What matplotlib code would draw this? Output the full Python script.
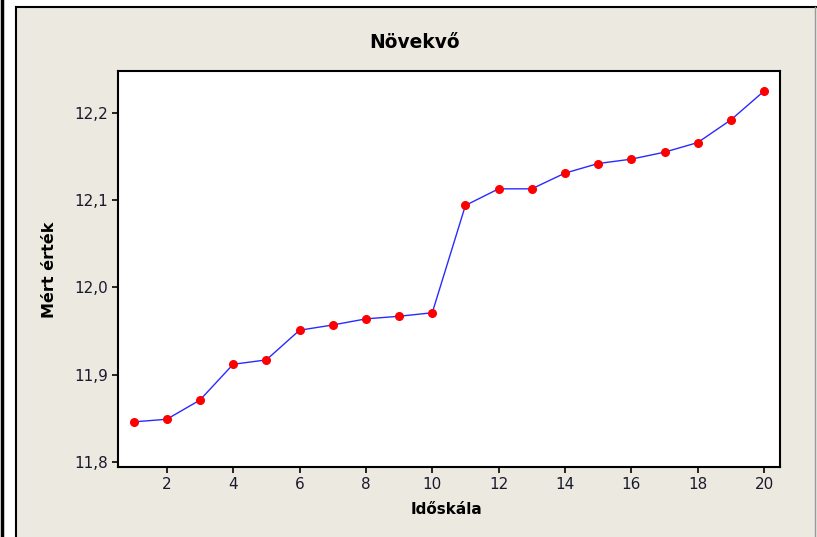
import matplotlib.pyplot as plt
from matplotlib.patches import Rectangle
from matplotlib.lines import Line2D

# data
x = list(range(1, 21))
y = [11.846, 11.849, 11.871, 11.912, 11.917, 11.951, 11.957, 11.964, 11.967, 11.971,
     12.094, 12.113, 12.113, 12.131, 12.142, 12.147, 12.155, 12.166, 12.192, 12.225]
xticks = [2, 4, 6, 8, 10, 12, 14, 16, 18, 20]
yticks = [11.8, 11.9, 12.0, 12.1, 12.2]
ytick_labels = ["11,8", "11,9", "12,0", "12,1", "12,2"]

W, H = 817, 537
fig = plt.figure(figsize=(W / 100, H / 100), dpi=100, facecolor="#ECE9E0")

# white strips + frame lines like the screenshot (behind the axes)
fig.patches.append(Rectangle((0, 0), 16 / W, 1, transform=fig.transFigure,
                             facecolor="white", edgecolor="none", zorder=-5))
fig.patches.append(Rectangle((0, 1 - 7 / H), 1, 7 / H, transform=fig.transFigure,
                             facecolor="white", edgecolor="none", zorder=-5))
fig.lines.append(Line2D([16 / W, 16 / W], [0, 1 - 7 / H], transform=fig.transFigure, color="black", lw=1.5, zorder=-4))
fig.lines.append(Line2D([16 / W, 1], [1 - 7 / H, 1 - 7 / H], transform=fig.transFigure, color="black", lw=1.5, zorder=-4))
fig.lines.append(Line2D([1.5 / W, 1.5 / W], [0, 1], transform=fig.transFigure, color="black", lw=2.5, zorder=-4))
fig.lines.append(Line2D([815 / W, 815 / W], [0, 1 - 7 / H], transform=fig.transFigure, color="#9a9a9a", lw=1, zorder=-4))

ax = fig.add_axes([118 / W, (H - 467) / H, (780 - 118) / W, (467 - 71) / H])
ax.set_zorder(5)
ax.set_facecolor("white")

ax.plot(x, y, color="#2a2aff", lw=1, zorder=2)
ax.plot(x, y, "o", color="red", ms=5.5, mec="red", zorder=3)

ax.set_xlim(0.53, 20.48)
ax.set_ylim(11.7943, 12.248)
ax.set_xticks(xticks)
ax.set_yticks(yticks)
ax.set_yticklabels(ytick_labels)

for s in ax.spines.values():
    s.set_linewidth(1.5)
    s.set_color("black")
ax.tick_params(direction="out", length=4, width=1.2, labelsize=11, colors="black", pad=3)
for lab in ax.get_xticklabels() + ax.get_yticklabels():
    lab.set_color("#1a1a2e")

# title is centred on the panel, not on the plot area
fig.text(415 / W, 1 - 42 / H, "Növekvő", fontsize=13.4, fontweight="bold", ha="center", va="center")
ax.set_xlabel("Időskála", fontsize=11, fontweight="bold")
ax.set_ylabel("Mért érték", fontsize=11.5, fontweight="bold")
ax.xaxis.set_label_coords((413 + 33 - 118) / (780 - 118) + 0.0, -(509 - 467) / (467 - 71))
ax.yaxis.set_label_coords(-(118 - 50) / (780 - 118), (467 - 270) / (467 - 71))
ax.xaxis.label.set_va("center")
ax.yaxis.label.set_va("center")

fig.savefig("out.png", dpi=100, facecolor=fig.get_facecolor())
